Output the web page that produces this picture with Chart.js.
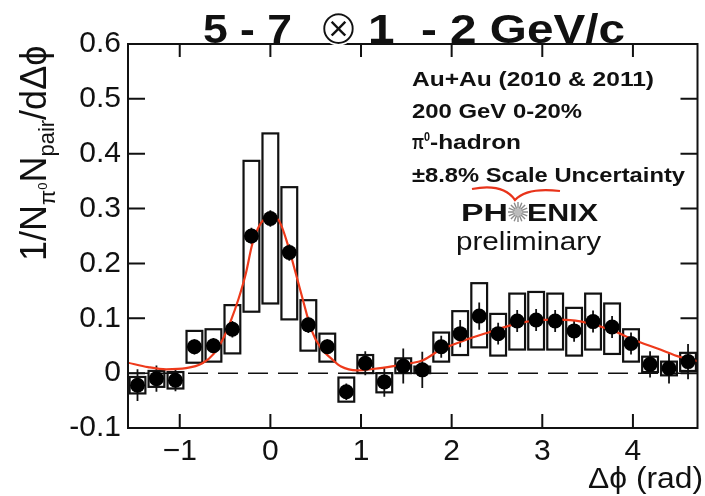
<!DOCTYPE html>
<html>
<head>
<meta charset="utf-8">
<script src="https://cdn.jsdelivr.net/npm/chart.js"></script>
<style>
  html, body { margin: 0; padding: 0; background: #fff; }
</style>
</head>
<body>
<canvas id="chart" width="705" height="496"></canvas>
<script>
// delta-phi bin centres (rad)
const dphi = [-1.466, -1.257, -1.047, -0.838, -0.628, -0.419, -0.209, 0, 0.209, 0.419,
  0.628, 0.838, 1.047, 1.257, 1.466, 1.676, 1.885, 2.094, 2.304, 2.513,
  2.723, 2.932, 3.142, 3.351, 3.560, 3.770, 3.979, 4.189, 4.398, 4.608];

// per-trigger pair yield
const yieldVals = [-0.022, -0.010, -0.013, 0.048, 0.050, 0.080, 0.250, 0.282, 0.220, 0.088,
  0.048, -0.034, 0.018, -0.016, 0.013, 0.006, 0.048, 0.072, 0.104, 0.072,
  0.095, 0.097, 0.095, 0.077, 0.094, 0.084, 0.054, 0.016, 0.009, 0.021];

// statistical errors
const statErr = [0.029, 0.024, 0.020, 0.014, 0.014, 0.015, 0.015, 0.015, 0.015, 0.015,
  0.014, 0.015, 0.022, 0.027, 0.032, 0.033, 0.020, 0.025, 0.025, 0.020,
  0.020, 0.020, 0.020, 0.020, 0.020, 0.020, 0.020, 0.024, 0.028, 0.032];

// systematic boxes (low / high edge)
const sysLow = [-0.037, -0.025, -0.028, 0.019, 0.021, 0.036, 0.112, 0.127, 0.098, 0.041,
  0.021, -0.052, 0.000, -0.035, 0.000, 0.000, 0.021, 0.033, 0.047, 0.032,
  0.043, 0.043, 0.043, 0.032, 0.043, 0.035, 0.021, 0.002, -0.004, 0.004];
const sysHigh = [-0.007, 0.004, 0.002, 0.077, 0.080, 0.124, 0.387, 0.437, 0.339, 0.133,
  0.072, -0.008, 0.033, 0.000, 0.027, 0.012, 0.074, 0.113, 0.164, 0.108,
  0.145, 0.148, 0.145, 0.119, 0.145, 0.127, 0.080, 0.030, 0.021, 0.037];

// fit curve
const fitX = [-1.571, -1.35, -1.15, -0.93, -0.75, -0.62, -0.53, -0.44, -0.35, -0.27, -0.20, -0.11, 0,
  0.09, 0.20, 0.27, 0.36, 0.45, 0.56, 0.67, 0.78, 0.96, 1.15, 1.40, 1.55, 1.69, 1.87,
  2.13, 2.42, 2.67, 3.00, 3.26, 3.51, 3.77, 4.02, 4.27, 4.53, 4.712];
const fitY = [0.019, 0.011, 0.007, 0.009, 0.018, 0.036, 0.060, 0.094, 0.136, 0.182, 0.235, 0.272, 0.285,
  0.279, 0.230, 0.188, 0.133, 0.080, 0.045, 0.027, 0.012, 0.005, 0.008, 0.014, 0.018, 0.024, 0.042,
  0.059, 0.075, 0.088, 0.097, 0.097, 0.091, 0.078, 0.060, 0.045, 0.029, 0.022];

const xTickValues = [-1, 0, 1, 2, 3, 4];
const yTickValues = [-0.1, 0, 0.1, 0.2, 0.3, 0.4, 0.5, 0.6];

const FONT = "'Liberation Sans', Arial, Helvetica, sans-serif";

// draw text squeezed/stretched horizontally to a measured width
function fitText(ctx, str, x, y, font, width) {
  ctx.font = font;
  const w = ctx.measureText(str).width;
  ctx.save();
  ctx.translate(x, y);
  ctx.scale(width / w, 1);
  ctx.fillText(str, 0, 0);
  ctx.restore();
}

const physPlugin = {
  id: 'phys',
  beforeDatasetsDraw(chart) {
    const { ctx, chartArea: a, scales: { x, y } } = chart;
    ctx.save();
    ctx.beginPath();
    ctx.rect(a.left, a.top, a.right - a.left, a.bottom - a.top);
    ctx.clip();

    // dashed zero line
    ctx.strokeStyle = '#111';
    ctx.lineWidth = 1.5;
    ctx.setLineDash([20, 10]);
    ctx.beginPath();
    ctx.moveTo(a.left, y.getPixelForValue(0));
    ctx.lineTo(a.right, y.getPixelForValue(0));
    ctx.stroke();
    ctx.setLineDash([]);

    // stat error bars
    ctx.lineWidth = 1.8;
    dphi.forEach((v, i) => {
      const px = x.getPixelForValue(v);
      ctx.beginPath();
      ctx.moveTo(px, y.getPixelForValue(yieldVals[i] - statErr[i]));
      ctx.lineTo(px, y.getPixelForValue(yieldVals[i] + statErr[i]));
      ctx.stroke();
    });

    // systematic boxes
    ctx.lineWidth = 2.2;
    const hw = 0.087;
    dphi.forEach((v, i) => {
      const x0 = x.getPixelForValue(v - hw), x1 = x.getPixelForValue(v + hw);
      const y0 = y.getPixelForValue(sysHigh[i]), y1 = y.getPixelForValue(sysLow[i]);
      ctx.strokeRect(x0, y0, x1 - x0, y1 - y0);
    });
    ctx.restore();
  },
  afterDraw(chart) {
    const { ctx, chartArea: a, scales: { x, y } } = chart;
    ctx.save();

    // frame + inward ticks
    ctx.strokeStyle = '#111';
    ctx.lineWidth = 2;
    ctx.strokeRect(a.left, a.top, a.right - a.left, a.bottom - a.top);
    ctx.beginPath();
    x.ticks.forEach(t => {
      const px = x.getPixelForValue(t.value);
      ctx.moveTo(px, a.bottom); ctx.lineTo(px, a.bottom - 14);
      ctx.moveTo(px, a.top); ctx.lineTo(px, a.top + 13);
    });
    y.ticks.forEach(t => {
      const py = y.getPixelForValue(t.value);
      ctx.moveTo(a.left, py); ctx.lineTo(a.left + 17, py);
      ctx.moveTo(a.right, py); ctx.lineTo(a.right - 17, py);
    });
    ctx.stroke();

    ctx.fillStyle = '#111';
    ctx.textAlign = 'left';
    ctx.textBaseline = 'alphabetic';

    // title
    fitText(ctx, '5 - 7', 203, 43, 'bold 41px ' + FONT, 89);
    ctx.save();
    ctx.font = "40px 'DejaVu Sans'";
    const m = ctx.measureText('\u2297');
    const inkH = m.actualBoundingBoxAscent + m.actualBoundingBoxDescent;
    const sz = 40 * 33 / inkH;
    ctx.font = sz + "px 'DejaVu Sans'";
    const m2 = ctx.measureText('\u2297');
    ctx.textAlign = 'center';
    const oy = 28 + (m2.actualBoundingBoxAscent - m2.actualBoundingBoxDescent) / 2;
    ctx.fillText('\u2297', 338.5, oy);
    // thin the strokes down to a hairline look
    ctx.strokeStyle = '#fff';
    ctx.lineWidth = 1.6;
    ctx.strokeText('\u2297', 338.5, oy);
    ctx.restore();
    fitText(ctx, '1  - 2 GeV/c', 368, 43, 'bold 41px ' + FONT, 257);

    // y axis title (rotated, with sub/superscripts)
    ctx.save();
    ctx.translate(46, 261);
    ctx.rotate(-Math.PI / 2);
    let cx = 0;
    const run = (s, size, dy) => {
      ctx.font = size + 'px ' + FONT;
      ctx.fillText(s, cx, dy);
      cx += ctx.measureText(s).width;
    };
    run('1/N', 36, 0);
    run('\u03c0', 22, 9);
    run('0', 13, 1);
    run('N', 36, 0);
    run('pair', 22, 8);
    run('/d\u0394\u03d5', 36, 0);
    ctx.restore();

    // x axis title
    fitText(ctx, '\u0394\u03d5 (rad)', 588, 488, '30px ' + FONT, 115);

    // annotations
    fitText(ctx, 'Au+Au (2010 & 2011)', 412, 86, 'bold 20px ' + FONT, 242);
    fitText(ctx, '200 GeV 0-20%', 412, 118, 'bold 20px ' + FONT, 170);
    fitText(ctx, '\u03c0', 412, 149, 'bold 20px ' + FONT, 12);
    fitText(ctx, '0', 424, 141, 'bold 12px ' + FONT, 6);
    fitText(ctx, '-hadron', 430, 149, 'bold 20px ' + FONT, 91);
    fitText(ctx, '\u00b18.8% Scale Uncertainty', 412, 182, 'bold 20px ' + FONT, 273);

    // PHENIX logo
    ctx.strokeStyle = '#e8331a';
    ctx.lineWidth = 2.2;
    ctx.beginPath();
    ctx.moveTo(472, 189);
    ctx.quadraticCurveTo(503, 183, 515, 200);
    ctx.quadraticCurveTo(527, 187, 560, 191);
    ctx.stroke();

    fitText(ctx, 'PH', 461, 221, 'bold 23px ' + FONT, 47);
    fitText(ctx, 'ENIX', 527, 221, 'bold 23px ' + FONT, 71);
    ctx.strokeStyle = '#8a8a8a';
    ctx.lineWidth = 1.4;
    ctx.beginPath();
    for (let k = 0; k < 16; k++) {
      const ang = k * Math.PI / 8;
      ctx.moveTo(518 + 3.5 * Math.cos(ang), 212 + 3.5 * Math.sin(ang));
      ctx.lineTo(518 + 10 * Math.cos(ang), 212 + 10 * Math.sin(ang));
    }
    ctx.stroke();
    ctx.fillStyle = '#bbb';
    ctx.beginPath();
    ctx.arc(518, 212, 3.5, 0, Math.PI * 2);
    ctx.fill();
    ctx.fillStyle = '#111';
    fitText(ctx, 'preliminary', 456, 250, '25px ' + FONT, 145);

    ctx.restore();
  }
};

new Chart(document.getElementById('chart'), {
  type: 'scatter',
  data: {
    datasets: [
      {
        label: 'data',
        data: dphi.map((v, i) => ({ x: v, y: yieldVals[i] })),
        pointRadius: 7.5,
        pointBackgroundColor: '#000',
        pointBorderWidth: 0,
        showLine: false,
        order: 0
      },
      {
        label: 'fit',
        data: fitX.map((v, i) => ({ x: v, y: fitY[i] })),
        showLine: true,
        pointRadius: 0,
        borderColor: '#ee3a1b',
        borderWidth: 2.2,
        cubicInterpolationMode: 'monotone',
        order: 1
      }
    ]
  },
  options: {
    responsive: false,
    devicePixelRatio: 1,
    animation: false,
    layout: { padding: { top: 44, right: 2, left: 0, bottom: 0 } },
    plugins: {
      legend: { display: false },
      tooltip: { enabled: false }
    },
    scales: {
      x: {
        type: 'linear',
        min: -Math.PI / 2,
        max: 3 * Math.PI / 2,
        afterBuildTicks: s => { s.ticks = xTickValues.map(v => ({ value: v })); },
        afterFit: s => { s.height = 68; },
        grid: { display: false, drawTicks: false },
        border: { display: false },
        ticks: {
          color: '#111',
          padding: 6,
          maxRotation: 0,
          autoSkip: false,
          font: { size: 30, family: FONT },
          callback: v => v < 0 ? '\u2212' + Math.abs(v) : String(v)
        }
      },
      y: {
        min: -0.1,
        max: 0.6,
        afterBuildTicks: s => { s.ticks = yTickValues.map(v => ({ value: v })); },
        afterFit: s => { s.width = 128; },
        grid: { display: false, drawTicks: false },
        border: { display: false },
        ticks: {
          color: '#111',
          padding: 7,
          autoSkip: false,
          font: { size: 30, family: FONT },
          callback: v => Math.abs(v) < 1e-9 ? '0' : (v < 0 ? '-' : '') + Math.abs(v).toFixed(1)
        }
      }
    }
  },
  plugins: [physPlugin]
});
</script>
</body>
</html>
